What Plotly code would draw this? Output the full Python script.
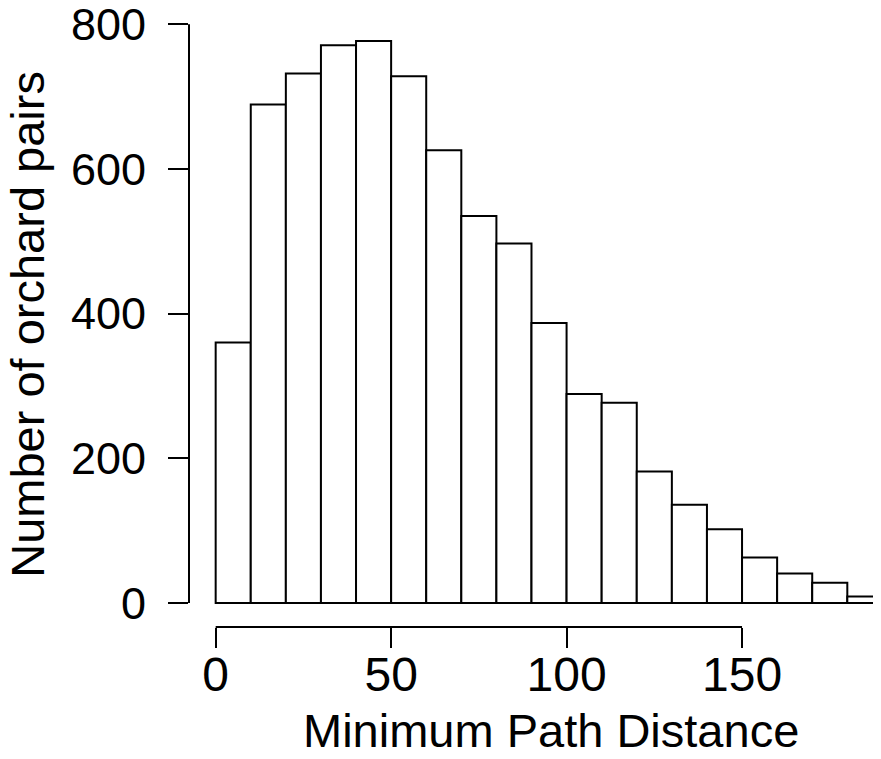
import plotly.graph_objects as go

# Histogram bins (left edges), bin width and counts
bin_left = [0, 10, 20, 30, 40, 50, 60, 70, 80, 90, 100, 110, 120, 130, 140, 150, 160, 170, 180]
bin_width = 10
counts = [360, 689, 732, 771, 777, 728, 626, 535, 497, 387, 289, 277, 182, 136, 102, 63, 41, 28, 9]

x_ticks = [0, 50, 100, 150]
y_ticks = [0, 200, 400, 600, 800]

x_title = "Minimum Path Distance"
y_title = "Number of orchard pairs"

centers = [b + bin_width / 2 for b in bin_left]

FONT = "Liberation Sans, Arial, Helvetica, sans-serif"

fig = go.Figure()
fig.add_trace(go.Bar(
    x=centers,
    y=counts,
    width=[bin_width] * len(counts),
    marker=dict(color="white", line=dict(color="black", width=2)),
    hoverinfo="x+y",
))

# The page body adds an 8px offset; the figure is sized to fill the rest of the window.
fig.update_layout(
    template="none",
    width=873,
    height=751,
    margin=dict(l=181, r=0, t=9, b=132, autoexpand=False),
    paper_bgcolor="white",
    plot_bgcolor="white",
    showlegend=False,
    font=dict(family=FONT, color="black", size=46),
    xaxis=dict(
        range=[-7.6, 189.6],
        tickmode="array",
        tickvals=x_ticks,
        ticktext=[str(v) for v in x_ticks],
        ticks="outside",
        ticklen=20,
        tickwidth=2,
        tickcolor="black",
        showline=False,
        showgrid=False,
        zeroline=False,
        automargin=False,
        ticklabeloverflow="allow",
        tickfont=dict(family=FONT, size=48, color="black"),
        ticklabelstandoff=-15,
    ),
    yaxis=dict(
        range=[-33, 810],
        tickmode="array",
        tickvals=y_ticks,
        ticktext=[str(v) for v in y_ticks],
        ticks="outside",
        ticklen=20,
        tickwidth=2,
        tickcolor="black",
        showline=False,
        showgrid=False,
        zeroline=False,
        automargin=False,
        ticklabeloverflow="allow",
        tickfont=dict(family=FONT, size=45, color="black"),
        ticklabelstandoff=13,
    ),
    shapes=[
        dict(type="line", xref="paper", yref="y", x0=0, x1=0,
             y0=y_ticks[0], y1=y_ticks[-1], line=dict(color="black", width=2)),
        dict(type="line", xref="x", yref="paper", x0=x_ticks[0], x1=x_ticks[-1],
             y0=0, y1=0, line=dict(color="black", width=2)),
    ],
    annotations=[
        dict(text=x_title, xref="paper", yref="paper", x=0.523, y=-0.169,
             xanchor="center", yanchor="middle", showarrow=False,
             font=dict(family=FONT, size=47, color="black")),
        dict(text=y_title, xref="paper", yref="paper", x=-0.2327, y=0.497,
             xanchor="center", yanchor="middle", textangle=-90, showarrow=False,
             font=dict(family=FONT, size=47, color="black")),
    ],
)

fig.write_html("out.html")
